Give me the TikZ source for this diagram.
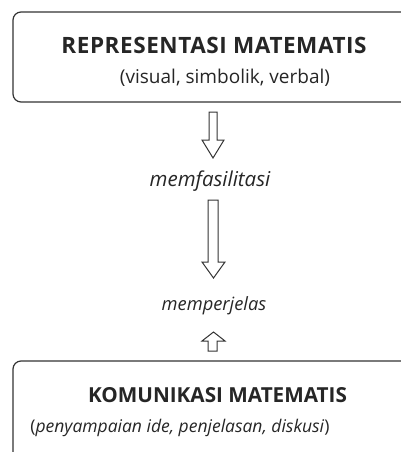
\documentclass[tikz,border=0pt]{standalone}
\usepackage{fontspec}
\setmainfont{Open Sans}
\newcommand{\fsz}[1]{\fontsize{#1}{#1}\selectfont}
\begin{document}
\begin{tikzpicture}[x=1pt,y=-1pt,
  frame/.style={draw=black!80, line width=1.2pt, rounded corners=8pt},
  blockarrow/.style={draw=black!80, line width=1pt, fill=white, line join=miter},
  txt/.style={text=black!85, inner sep=0pt, anchor=base}]
\useasboundingbox (0,0) rectangle (401,452);
\clip (0,0) rectangle (401,452);
\fill[white] (0,0) rectangle (401,452);

% upper box: representation
\draw[frame] (13,12) rectangle (430,102);
\node[txt, font=\bfseries\fsz{22.5}\addfontfeature{LetterSpace=2.5}] (rep) at (214,53) {REPRESENTASI MATEMATIS};
\node[txt, font=\fsz{19}] (repsub) at (225,83) {(visual, simbolik, verbal)};

% labels between the arrows
\node[txt, font=\itshape\fsz{20.5}] (fas) at (210,186) {memfasilitasi};
\node[txt, font=\itshape\fsz{18.3}] (jel) at (214,310) {memperjelas};

% lower box: communication
\draw[frame] (13,361) rectangle (430,480);
\node[txt, font=\bfseries\fsz{20.7}] (kom) at (217.5,402) {KOMUNIKASI MATEMATIS};
\node[txt, font=\fsz{17.5}] (komsub) at (180,432) {(\textit{penyampaian ide, penjelasan, diskusi})};

% hollow block arrows, each drawn from the end of its shaft
\coordinate (a1) at (213,112);
\coordinate (a2) at (213,200);
\coordinate (a3) at (213,351);
\draw[blockarrow] (a1) ++(-4,0) -- ++(0,28) -- ++(-7,0) -- ++(11,18) -- ++(11,-18) -- ++(-7,0) -- ++(0,-28) -- cycle;
\draw[blockarrow] (a2) ++(-5,0) -- ++(0,62) -- ++(-6,0) -- ++(11.5,16) -- ++(11.5,-16) -- ++(-7,0) -- ++(0,-62) -- cycle;
\draw[blockarrow] (a3) ++(-5,0) -- ++(0,-10) -- ++(-6,0) -- ++(11.5,-9) -- ++(11.5,9) -- ++(-8,0) -- ++(0,10) -- cycle;
\end{tikzpicture}
\end{document}
